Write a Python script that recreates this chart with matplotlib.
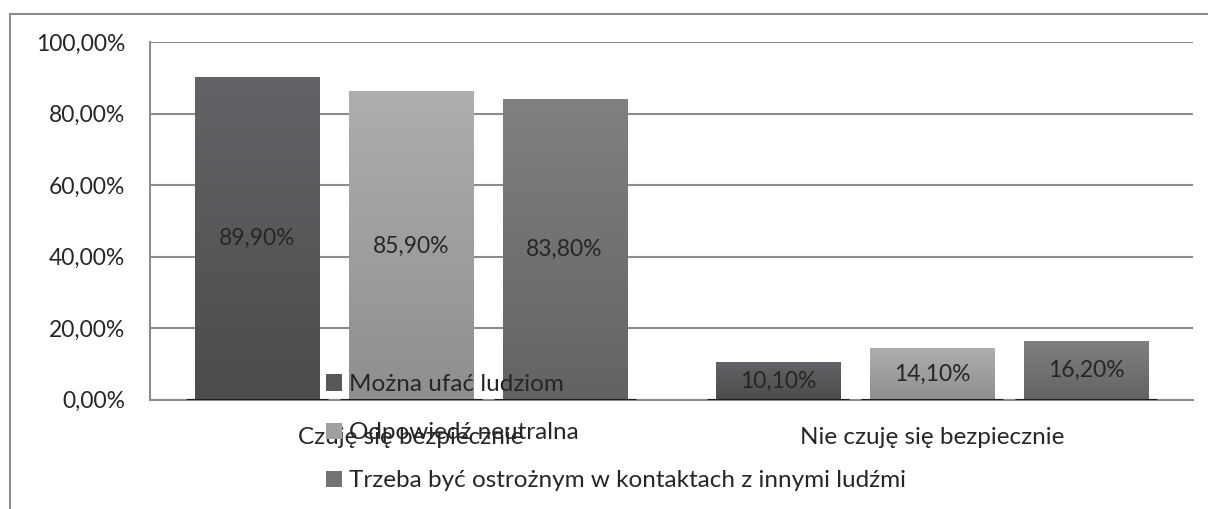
import numpy as np
import matplotlib.pyplot as plt
from matplotlib.lines import Line2D
from matplotlib.ticker import FuncFormatter
from matplotlib.colors import LinearSegmentedColormap

categories = ["Czuję się bezpiecznie", "Nie czuję się bezpiecznie"]
series_names = ["Można ufać ludziom", "Odpowiedź neutralna",
                "Trzeba być ostrożnym w kontaktach z innymi ludźmi"]
ufac = [89.9, 10.1]
neutralna = [85.9, 14.1]
ostrozny = [83.8, 16.2]
colors = ["#58585b", "#a0a0a3", "#737376"]
# gradient (bottom, top) per series
grads = [("#4c4c4e", "#636367"), ("#8f8f92", "#aeaeb0"), ("#636366", "#808083")]

plt.rcParams['font.family'] = ['Lato', 'DejaVu Sans']
txt = "#262626"

fig = plt.figure(figsize=(12.08, 5.09), dpi=100)
ax = fig.add_axes([150/1208, 1-399.5/509, 1043/1208, 357.5/509])

x = np.arange(len(categories))
w = 0.238
step = 0.295
g = np.linspace(0, 1, 100).reshape(-1, 1)
for i, (vals, name, c) in enumerate(zip([ufac, neutralna, ostrozny], series_names, colors)):
    xs = x + (i-1)*step
    bars = ax.bar(xs, vals, w, color=c, label=name, zorder=3)
    cm = LinearSegmentedColormap.from_list("g%d" % i, list(grads[i]))
    for b in bars:
        x0, h = b.get_x(), b.get_height()
        ax.imshow(g, extent=[x0, x0 + b.get_width(), 0, h], origin="lower",
                  aspect="auto", cmap=cm, zorder=3.5)
    # dark shadow line under each bar
    ax.hlines(np.zeros(len(xs)), xs-w/2-0.017, xs+w/2+0.017, color="#1e1e1e", lw=2.2, zorder=4)
    for xi, v in zip(xs, vals):
        ax.text(xi, v/2, f"{v:.2f}%".replace(".", ","), ha="center", va="center",
                fontsize=16.5, color=txt, zorder=5)

ax.set_xlim(-0.5, 1.5)
ax.set_ylim(0, 100)
ax.set_yticks(np.arange(0, 101, 20))
ax.yaxis.set_major_formatter(FuncFormatter(lambda v, p: f"{v:.2f}%".replace(".", ",")))
ax.set_xticks(x)
ax.set_xticklabels(categories)
ax.tick_params(axis="both", length=0, colors=txt)
ax.tick_params(axis="y", pad=18, labelsize=16.5)
ax.tick_params(axis="x", pad=19.5, labelsize=17.5)
ax.grid(axis="y", color="#8c8c8c", lw=1.5, zorder=1)
ax.set_axisbelow(True)
for s in ["top", "right"]:
    ax.spines[s].set_visible(False)
ax.spines["left"].set_color("#8c8c8c")
ax.spines["bottom"].set_color("#8c8c8c")
ax.spines["left"].set_linewidth(1.5)
ax.spines["bottom"].set_linewidth(1.5)

leg = ax.legend(loc="upper left", bbox_to_anchor=(326/1208, 1-374/509),
                bbox_transform=fig.transFigure, frameon=False, fontsize=17.5,
                handlelength=0.65, handleheight=0.65, handletextpad=0.3,
                labelspacing=1.12, borderpad=0, borderaxespad=0)
leg.set_zorder(6)
for t in leg.get_texts():
    t.set_color(txt)

# outer chart frame
fig.add_artist(Line2D([10/1208, 1], [1-14/509, 1-14/509], color="#8c8c8c", lw=1.5))
fig.add_artist(Line2D([10/1208, 10/1208], [0, 1-14/509], color="#8c8c8c", lw=1.5))

fig.savefig("out.png", dpi=100)
